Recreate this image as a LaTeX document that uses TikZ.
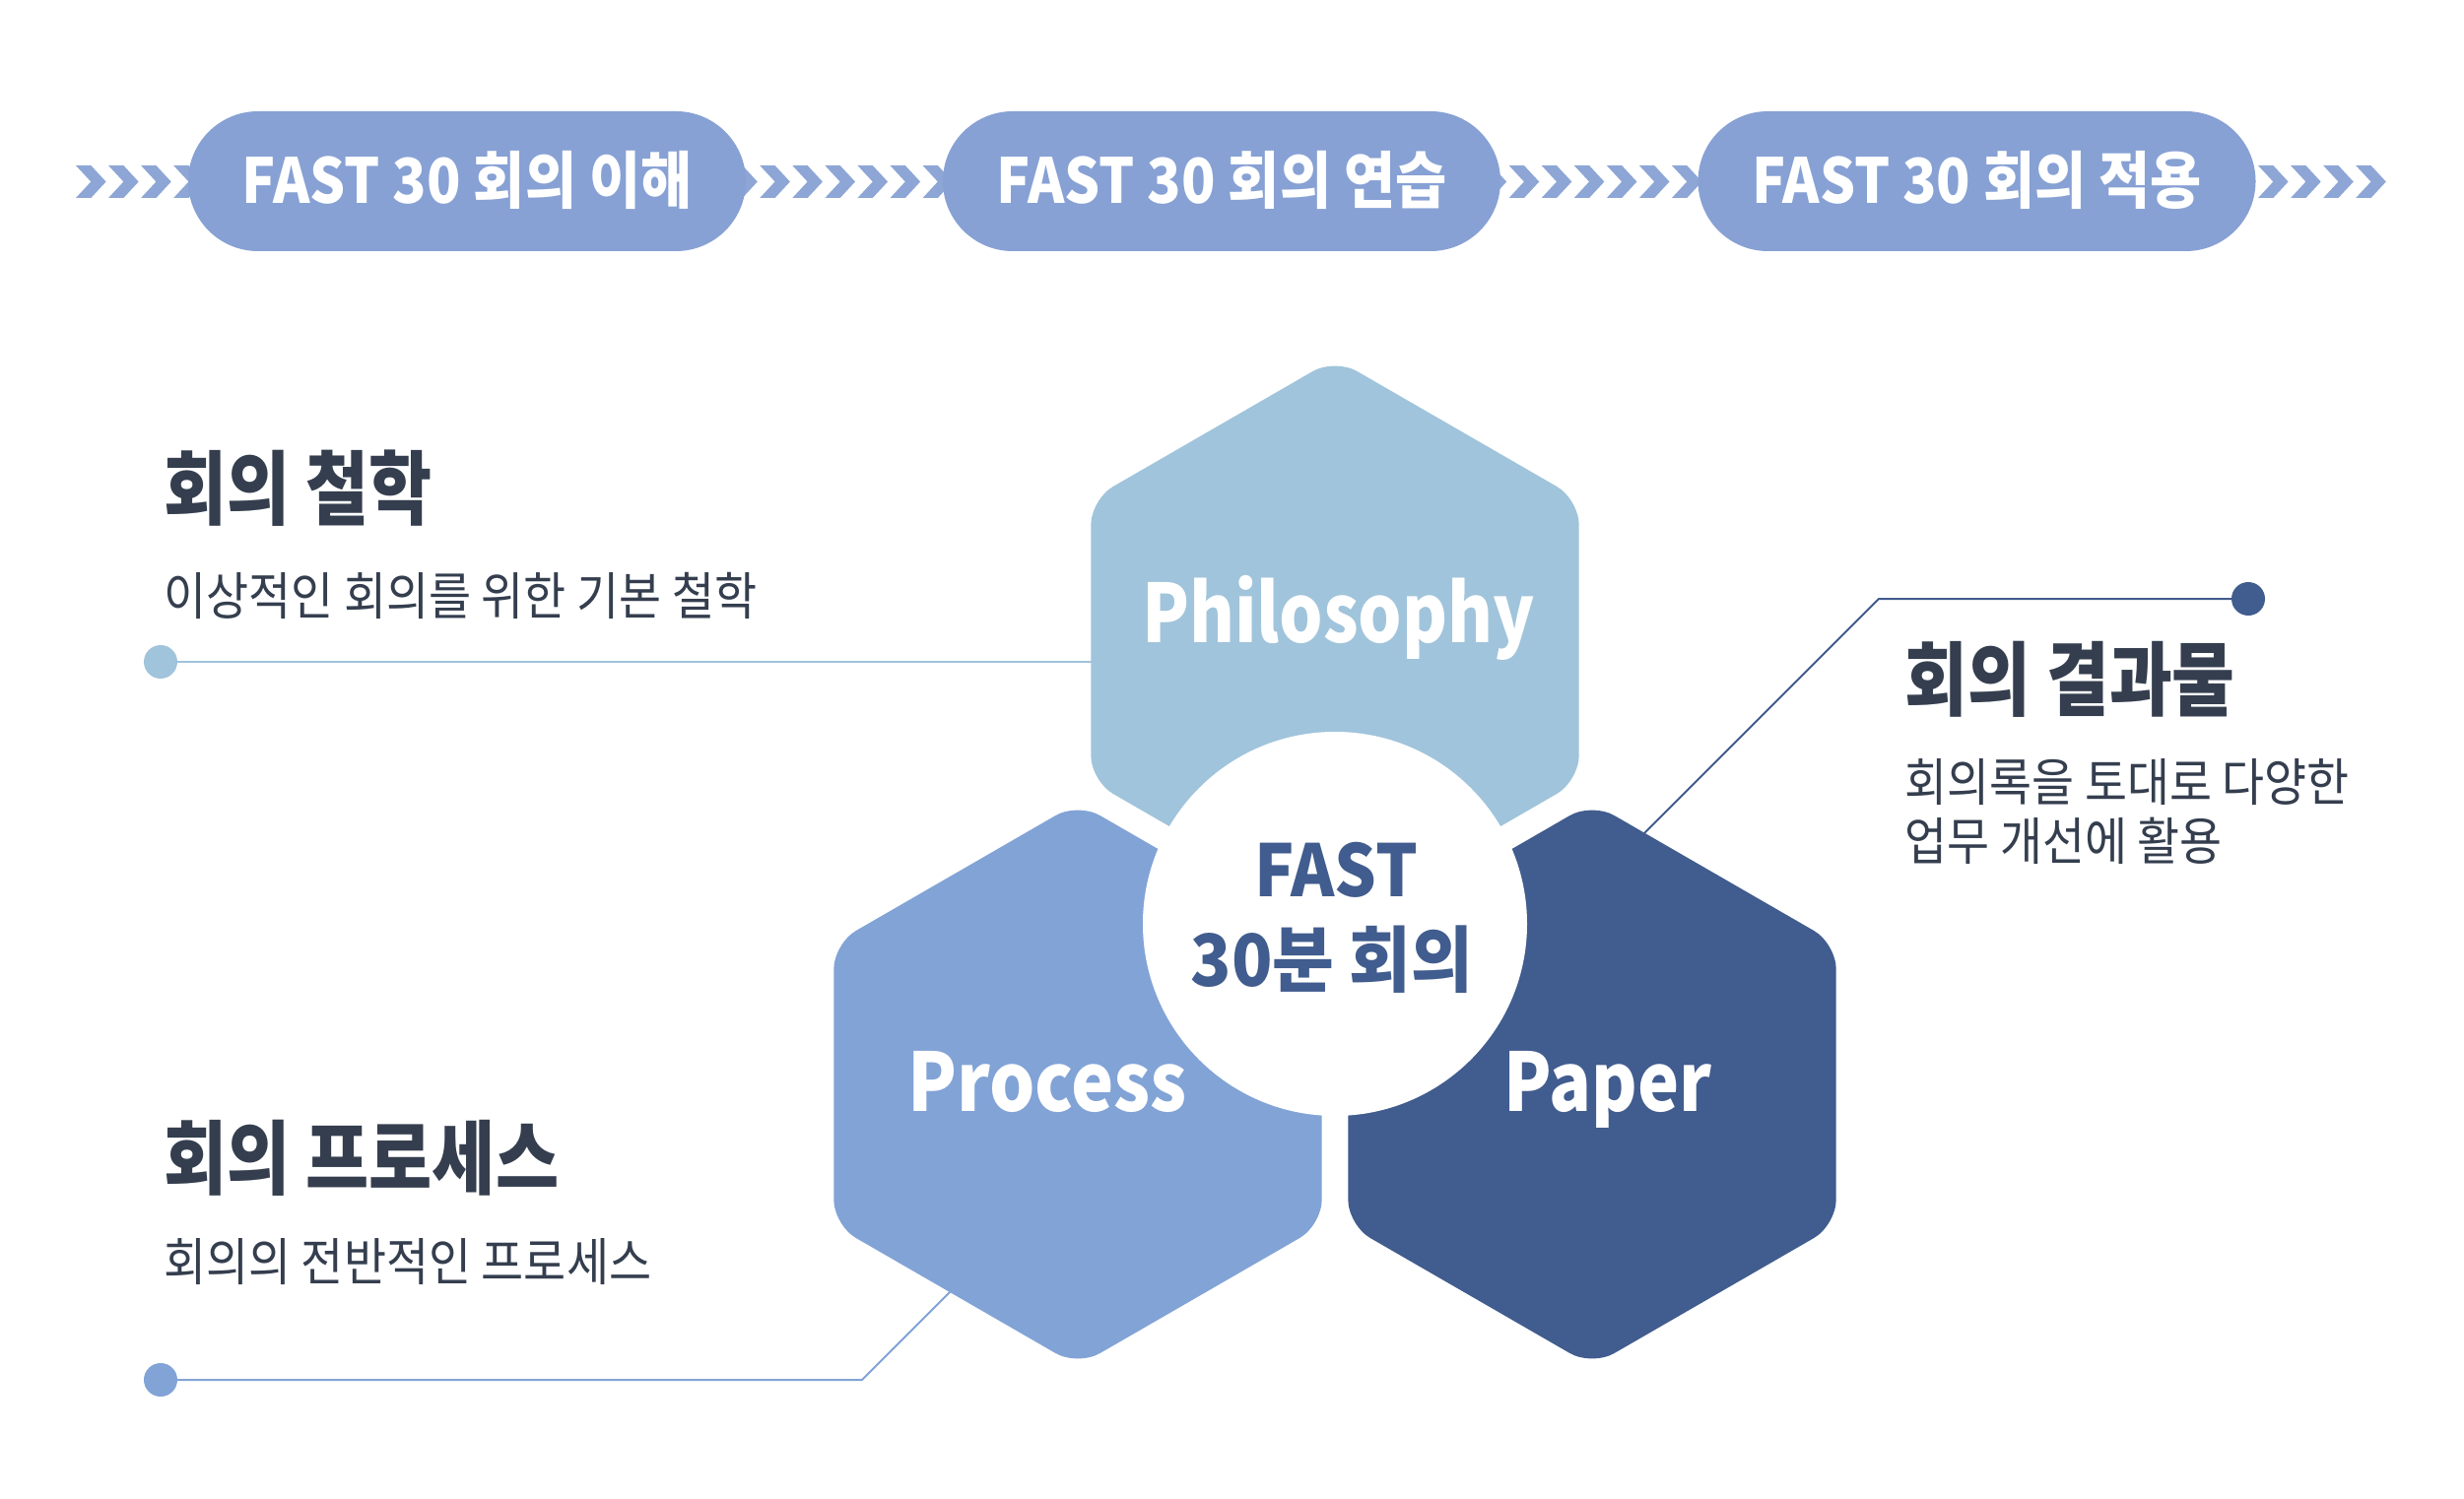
\documentclass[tikz,border=0pt]{standalone}
\usepackage{fontspec}
\usepackage{graphicx}
\setmainfont{Noto Sans CJK KR}
\definecolor{cPill}{HTML}{87A1D4}
\definecolor{cChev}{HTML}{8DA6D5}
\definecolor{cPhi}{HTML}{A0C4DB}
\definecolor{cPro}{HTML}{82A3D6}
\definecolor{cPap}{HTML}{415C8E}
\definecolor{cTxt}{HTML}{343E4E}
\newcommand\fitw[2]{\resizebox{#1}{\height}{#2}}
\newcommand\hexat[3]{\fill[#3, rounded corners=26pt] (#1,#2-286) -- ++(247.7,143) -- ++(0,286) -- ++(-247.7,143) -- ++(-247.7,-143) -- ++(0,-286) -- cycle;}
\begin{document}
\begin{tikzpicture}[x=1pt,y=-1pt,
  pill/.style={fill=cPill, minimum width=566pt, minimum height=142pt, rounded corners=71pt, inner sep=0pt},
  pilltext/.style={anchor=base, inner sep=0pt, text=white, font=\fontsize{63}{70}\selectfont\bfseries},
  hexlabel/.style={anchor=base, inner sep=0pt, text=white, font=\fontsize{82}{90}\selectfont\bfseries},
  coretext/.style={anchor=base, inner sep=0pt, text=cPap, font=\fontsize{73}{80}\selectfont\bfseries},
  heading/.style={anchor=west, inner sep=0pt, text=cTxt, font=\fontsize{82}{90}\selectfont\bfseries},
  subtext/.style={anchor=west, inner sep=0pt, text=cTxt, font=\fontsize{52}{60}\selectfont},
  dot/.style={circle, inner sep=0pt, minimum size=34pt},
  conn/.style={line width=2pt}
]
\useasboundingbox (0,0) rectangle (2501,1522);
\fill[white] (0,0) rectangle (2501,1522);

% chevron row
\foreach \k in {0,...,70}{
  \fill[cChev] ({77+33.06*\k},168) -- ++(15.3,0) -- ++(15.3,16.5) -- ++(-15.3,16.5) -- ++(-15.3,0) -- ++(15.3,-16.5) -- cycle;
}

% pills
\node[pill] (p1) at (474,184) {};
\node[pill] (p2) at (1240,184) {};
\node[pill] (p3) at (2006.5,184) {};
\node[pilltext] (t1) at (474,207) {\fitw{457pt}{FAST 30 회의 이해}};
\node[pilltext] (t2) at (1240,207) {\fitw{457pt}{FAST 30 회의 연습}};
\node[pilltext] (t3) at (2006.5,207) {\fitw{457pt}{FAST 30 회의 적용}};

% connectors (under hexagons)
\node[dot, fill=cPhi] (dphi) at (163,672) {};
\coordinate (ephi) at (1110,672);
\draw[conn, cPhi] (dphi) -- (ephi);

\node[dot, fill=cPro] (dpro) at (163,1401) {};
\coordinate (bpro) at (875,1401);
\coordinate (epro) at (970,1306);
\draw[conn, cPro] (dpro) -- (bpro) -- (epro);

\node[dot, fill=cPap] (dpap) at (2282,608) {};
\coordinate (bpap) at (1907,608);
\coordinate (epap) at (1663,852);
\draw[conn, cPap] (dpap) -- (bpap) -- (epap);

% hexagons
\hexat{1355}{650}{cPhi}
\hexat{1094}{1101}{cPro}
\hexat{1616}{1101}{cPap}

% core circle
\node[circle, fill=white, minimum size=390pt, inner sep=0pt] (core) at (1355,938) {};

% hex labels
\node[hexlabel] (philo) at (1358.5,652) {\fitw{399pt}{Philosophy}};
\node[hexlabel] (proc) at (1063,1128) {\fitw{284pt}{Process}};
\node[hexlabel] (paper) at (1632,1128) {\fitw{211pt}{Paper}};

% core text
\node[coretext] (core1) at (1356,910) {\fitw{166pt}{FAST}};
\node[coretext] (core2) at (1352,1001) {\fitw{287pt}{30분 회의}};

% side texts
\node[heading] (h1) at (166,496) {\fitw{272pt}{회의 철학}};
\node[subtext] (s1) at (166,604.5) {\fitw{602pt}{이상적인 회의를 위한 기본 철학}};
\node[heading] (h2) at (166,1176) {\fitw{401pt}{회의 프로세스}};
\node[subtext] (s2) at (166,1281.5) {\fitw{495pt}{회의의 전반적인 프로세스}};
\node[heading] (h3) at (1933.5,689.5) {\fitw{335pt}{회의 결과물}};
\node[subtext] (s3) at (1933.5,794.5) {\fitw{451pt}{회의록을 토대로 다양한}};
\node[subtext] (s4) at (1933.5,853.5) {\fitw{322pt}{업무 개선에 활용}};
\end{tikzpicture}
\end{document}
